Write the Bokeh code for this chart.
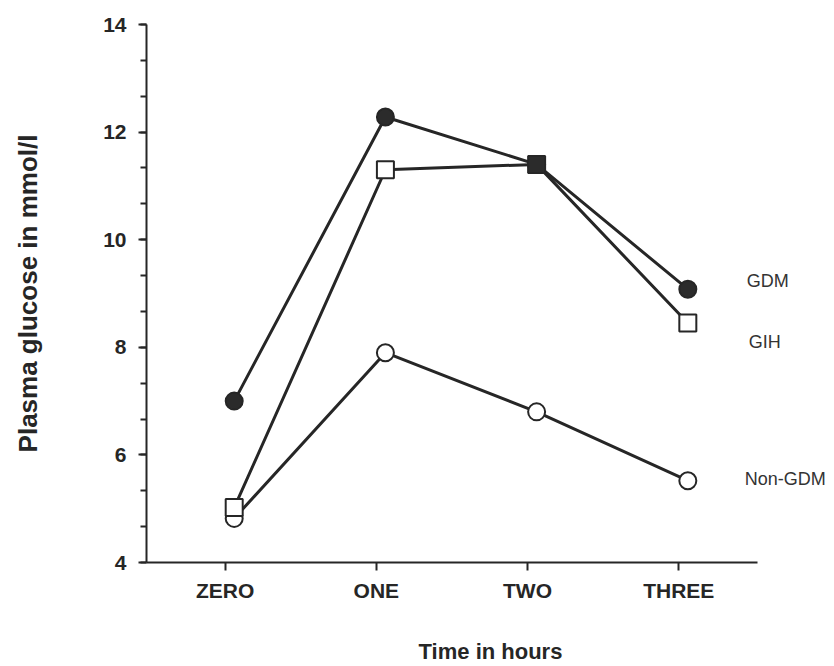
from bokeh.plotting import figure
from bokeh.models import ColumnDataSource, FixedTicker, SingleIntervalTicker, Range1d, Label
from bokeh.transform import dodge
from bokeh.embed import file_html
from bokeh.resources import INLINE

# ---- data ----
hours = [0, 1, 2, 3]
time_labels = ["ZERO", "ONE", "TWO", "THREE"]
gdm = [7.0, 12.28, 11.4, 9.08]
gih = [5.02, 11.3, 11.4, 8.45]
non_gdm = [4.82, 7.9, 6.8, 5.52]
gih_fill = ["white", "white", "#2b2b2b", "white"]  # TWO: GDM and GIH coincide
series_names = ["GDM", "GIH", "Non-GDM"]

INK = "#262626"
FONT = "Liberation Sans"

src = ColumnDataSource(dict(x=hours, gdm=gdm, gih=gih, non=non_gdm, gih_fill=gih_fill))

# x axis spans -0.52..3.52; frame extends further right to host the series labels
X0, X1 = -0.52, 3.52
p = figure(width=834, height=666, output_backend="svg", toolbar_location=None,
           x_range=Range1d(X0, 4.03), y_range=Range1d(4, 14),
           min_border_left=146, min_border_top=24, min_border_right=0, min_border_bottom=104)
p.outline_line_color = None
p.xgrid.visible = False
p.ygrid.visible = False
p.background_fill_color = "white"
p.border_fill_color = "white"

xs = dodge("x", 0.06)

# lines
for col in ["non", "gih", "gdm"]:
    p.line(x=xs, y=col, source=src, line_color=INK, line_width=3)

# markers
p.scatter(x=xs, y="non", source=src, marker="circle", size=17,
          fill_color="white", line_color=INK, line_width=2)
p.scatter(x=xs, y="gdm", source=src, marker="circle", size=17,
          fill_color="#2b2b2b", line_color=INK, line_width=2)
p.scatter(x=xs, y="gih", source=src, marker="square", size=17,
          fill_color="gih_fill", line_color=INK, line_width=2)

# series labels at the right end
ends = [gdm[-1], gih[-1], non_gdm[-1]]
xoffs = [59, 61, 57]
yoffs = [8, -19, 2]
for name, yv, xo, yo in zip(series_names, ends, xoffs, yoffs):
    p.add_layout(Label(x=hours[-1] + 0.06, y=yv, x_offset=xo, y_offset=yo, text=name,
                       text_font=FONT, text_font_size="18px", text_color="#333333",
                       text_baseline="middle", text_align="left"))

# axes
xa = p.xaxis[0]
xa.ticker = FixedTicker(ticks=hours)
xa.major_label_overrides = {h: t for h, t in zip(hours, time_labels)}
xa.axis_label = "Time in hours"
xa.bounds = (X0, X1)
ya = p.yaxis[0]
ya.ticker = SingleIntervalTicker(interval=2, num_minor_ticks=3)
ya.axis_label = "Plasma glucose in mmol/l"

for ax in (xa, ya):
    ax.axis_line_color = INK
    ax.axis_line_width = 2
    ax.major_tick_line_color = INK
    ax.major_tick_line_width = 2
    ax.major_tick_in = 0
    ax.major_tick_out = 8
    ax.minor_tick_line_color = INK
    ax.minor_tick_line_width = 2
    ax.minor_tick_in = 0
    ax.minor_tick_out = 6
    ax.major_label_text_font = FONT
    ax.major_label_text_font_style = "bold"
    ax.major_label_text_font_size = "21px"
    ax.major_label_text_color = INK
    ax.axis_label_text_font = FONT
    ax.axis_label_text_font_style = "bold"
    ax.axis_label_text_color = INK

xa.major_label_standoff = 8
xa.axis_label_text_font_size = "22px"
xa.axis_label_standoff = 34
ya.major_label_standoff = 12
ya.axis_label_text_font_size = "26px"
ya.axis_label_standoff = 57

open("out.html", "w").write(file_html(p, INLINE))
